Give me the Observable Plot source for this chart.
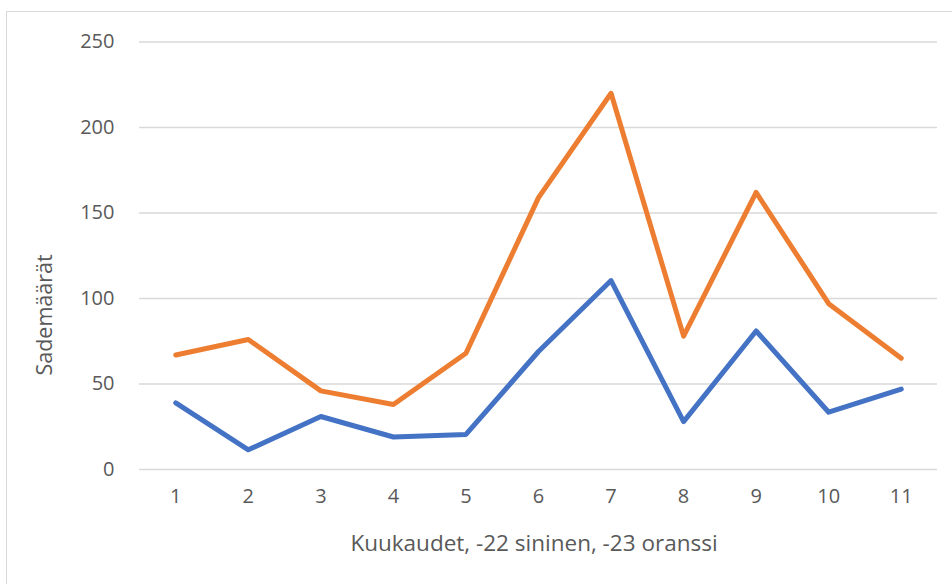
<!DOCTYPE html>
<html>
<head>
<meta charset="utf-8">
<script src="https://cdn.jsdelivr.net/npm/d3@7"></script>
<script src="https://cdn.jsdelivr.net/npm/@observablehq/plot@0.6"></script>
<style>
  html, body { margin: 0; padding: 0; background: #fff; }
  #wrap { position: relative; width: 952px; height: 584px; overflow: hidden; font-family: 'Open Sans', sans-serif; color: #595959; }
  #border { position: absolute; left: 6px; top: 11px; width: 960px; height: 600px; border: 1.5px solid #d9d9d9; box-sizing: border-box; }
  #chart { position: absolute; left: 0; top: 0; }
  #chart svg text { font-size: 20px; font-family: 'Open Sans', sans-serif; }
  .title { position: absolute; white-space: nowrap; font-size: 22.5px; line-height: 1; }
  #xtitle { left: 534px; top: 543px; transform: translate(-50%, -50%); }
  #ytitle { left: 44px; top: 315px; transform: translate(-50%, -50%) rotate(-90deg); font-size: 21.5px; }
</style>
</head>
<body>
<div id="wrap"><div id="border"></div><div id="chart"></div>
<div class="title" id="xtitle"></div><div class="title" id="ytitle"></div></div>
<script>
const months = [1, 2, 3, 4, 5, 6, 7, 8, 9, 10, 11];
const rain2022 = [39, 11.5, 31, 19, 20.5, 69, 110.5, 28, 81, 33.5, 47];
const rain2023 = [67, 76, 46, 38, 68, 159, 220, 78, 162, 97, 65];
const yTicks = [0, 50, 100, 150, 200, 250];
const xLabel = "Kuukaudet, -22 sininen, -23 oranssi";
const yLabel = "Sademäärät";

const data = [
  ...months.map((m, i) => ({month: m, value: rain2022[i], series: "2022"})),
  ...months.map((m, i) => ({month: m, value: rain2023[i], series: "2023"}))
];

const chart = Plot.plot({
  width: 952,
  height: 584,
  marginLeft: 139,
  marginRight: 15,
  marginTop: 41.5,
  marginBottom: 115,
  style: {fontFamily: "'Open Sans', sans-serif", background: "transparent"},
  x: {domain: [0.5, 11.5], axis: null},
  y: {domain: [0, 250], axis: null},
  color: {domain: ["2022", "2023"], range: ["#4472C4", "#ED7D31"]},
  marks: [
    Plot.ruleY(yTicks, {stroke: "#d9d9d9", strokeWidth: 1.5}),
    Plot.text(yTicks, {y: d => d, text: d => String(d), frameAnchor: "left", textAnchor: "end", dx: -25, fontSize: 20, fill: "#595959"}),
    Plot.text(months, {x: d => d, text: d => String(d), frameAnchor: "bottom", dy: 33, fontSize: 20, fill: "#595959"}),
    Plot.line(data, {x: "month", y: "value", z: "series", stroke: "series", strokeWidth: 5, strokeLinejoin: "round", strokeLinecap: "round"})
  ]
});
document.getElementById("chart").appendChild(chart);
document.getElementById("xtitle").textContent = xLabel;
document.getElementById("ytitle").textContent = yLabel;
</script>
</body>
</html>
